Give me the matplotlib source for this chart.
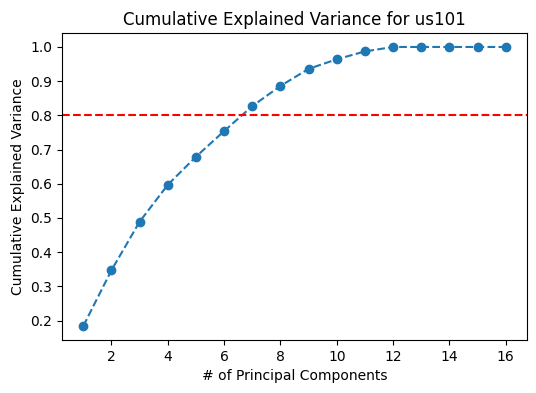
import matplotlib
matplotlib.use("Agg")
import matplotlib.pyplot as plt

components = list(range(1, 17))
cum_var = [0.184, 0.347, 0.489, 0.597, 0.679, 0.754, 0.827, 0.886,
           0.936, 0.964, 0.987, 1.0, 1.0, 1.0, 1.0, 1.0]
threshold = 0.8

fig = plt.figure(figsize=(5.36, 3.93), dpi=100)
ax = fig.add_axes([0.116, 0.135, 0.867, 0.781])
ax.plot(components, cum_var, marker='o', linestyle='--', color='#1f77b4')
ax.axhline(y=threshold, color='r', linestyle='--')
ax.set_title('Cumulative Explained Variance for us101')
ax.set_xlabel('# of Principal Components')
ax.set_ylabel('Cumulative Explained Variance')
fig.savefig('out.png', dpi=100)
